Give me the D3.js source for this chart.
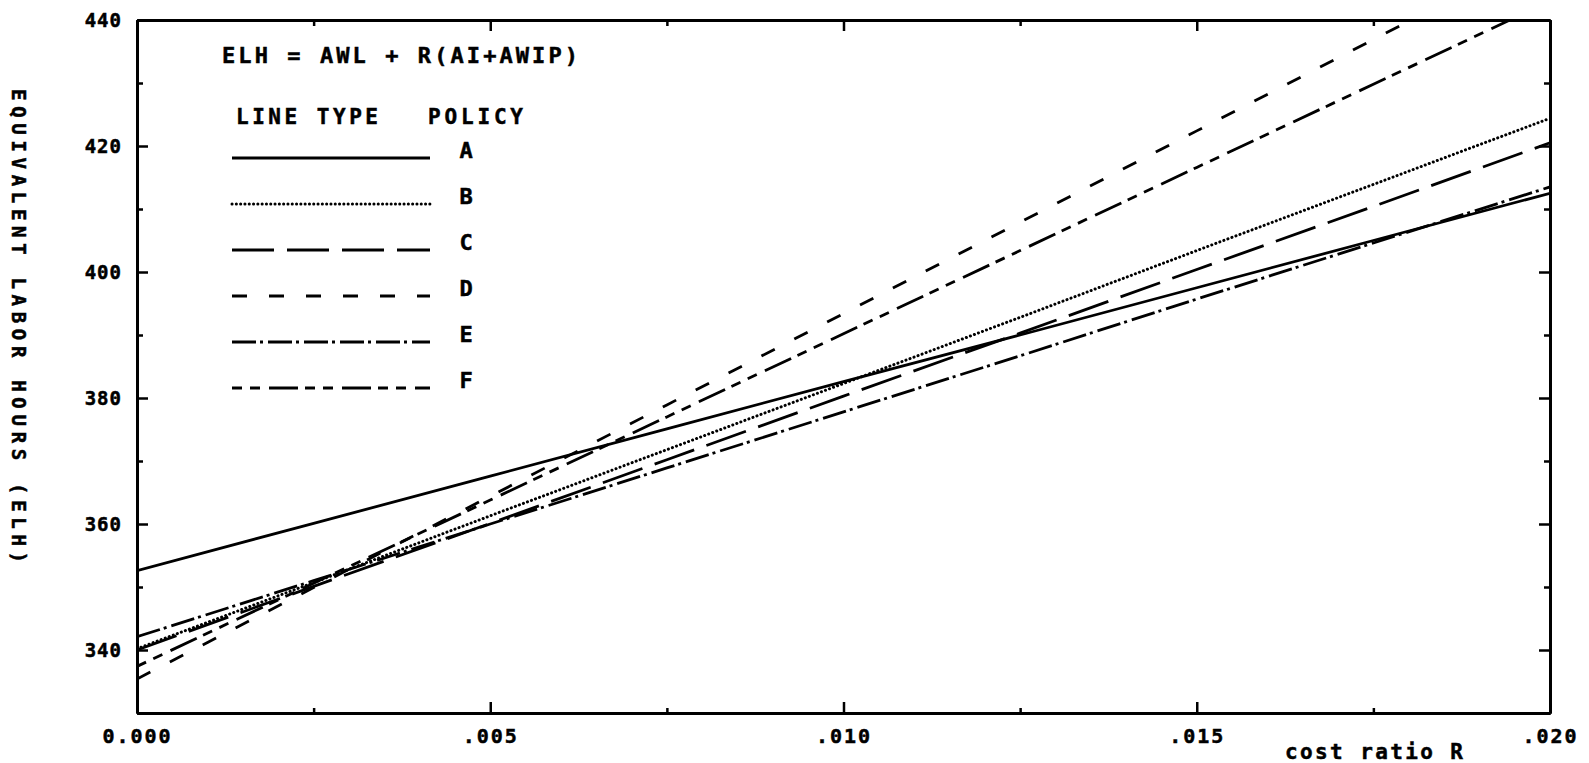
<!DOCTYPE html>
<html>
<head>
<meta charset="utf-8">
<script src="https://cdn.jsdelivr.net/npm/d3@7"></script>
<style>
  body { margin: 0; background: #fff; }
  text { font-family: "DejaVu Sans Mono", monospace; font-weight: bold; fill: #000; stroke: #000; stroke-width: 0.5px; }
</style>
</head>
<body>
<div id="chart"></div>
<script>
// values, ELH vs cost ratio R
var costRatio = [0, .0025, .005, .0075, .010, .0125, .015, .0175, .020];
var policyA = [352.6, 360.1, 367.6, 375.1, 382.6, 390.0, 397.5, 405.0, 412.5];
var policyB = [340.2, 350.7, 361.3, 371.8, 382.3, 392.8, 403.4, 413.9, 424.4];
var policyC = [340.0, 350.1, 360.1, 370.2, 380.3, 390.3, 400.4, 410.4, 420.5];
var policyD = [335.4, 349.9, 364.4, 378.9, 393.4, 407.9, 422.4, 436.9, 451.4];
var policyE = [342.1, 351.0, 360.0, 368.9, 377.8, 386.7, 395.7, 404.6, 413.5];
var policyF = [337.4, 350.6, 363.8, 377.0, 390.2, 403.4, 416.6, 429.8, 443.0];
var policyNames = ["A", "B", "C", "D", "E", "F"];

var yMajor = [340, 360, 380, 400, 420, 440];
var yMinor = [330, 350, 370, 390, 410, 430];
var xMajor = [0, .005, .010, .015, .020];
var xMinor = [.0025, .0075, .0125, .0175];
var xLabels = ["0.000", ".005", ".010", ".015", ".020"];

var series = [policyA, policyB, policyC, policyD, policyE, policyF];
// plotter line types
var dashes = ["none", "0.1,4.2", "42,13", "15,22", "24,4,3,5", "10,8,10,9,29,7"];

var w = 1589, h = 763;
var padLeft = 137, padRight = 1550, padTop = 20, padBottom = 713;

var scaleX = d3.scaleLinear().domain([0, .02]).range([padLeft, padRight]);
var scaleY = d3.scaleLinear().domain([330, 440]).range([padBottom, padTop]);

var canvas = d3.select("#chart")
  .append("svg")
  .attr("width", w)
  .attr("height", h);

canvas.append("defs").append("clipPath").attr("id", "plotArea")
  .append("rect")
  .attr("x", padLeft).attr("y", padTop)
  .attr("width", padRight - padLeft).attr("height", padBottom - padTop);

// frame + ticks (all inward)
function styleAxis(g) {
  g.selectAll("path.domain").attr("stroke", "#000").attr("stroke-width", 3);
  g.selectAll(".tick line").attr("stroke", "#000").attr("stroke-width", 2.5);
}

canvas.append("g")
  .attr("transform", "translate(" + padLeft + ",0)")
  .call(d3.axisLeft(scaleY).tickValues(yMajor).tickSizeInner(-11).tickSizeOuter(0).tickPadding(15).tickFormat(d3.format("d")))
  .call(styleAxis)
  .call(g => g.selectAll("text").attr("font-size", 19).attr("letter-spacing", 1));

canvas.append("g")
  .attr("transform", "translate(" + padLeft + ",0)")
  .call(d3.axisLeft(scaleY).tickValues(yMinor).tickSizeInner(-6).tickSizeOuter(0).tickFormat(""))
  .call(styleAxis);

canvas.append("g")
  .attr("transform", "translate(" + padRight + ",0)")
  .call(d3.axisRight(scaleY).tickValues(yMajor).tickSizeInner(-11).tickSizeOuter(0).tickFormat(""))
  .call(styleAxis);

canvas.append("g")
  .attr("transform", "translate(" + padRight + ",0)")
  .call(d3.axisRight(scaleY).tickValues(yMinor).tickSizeInner(-6).tickSizeOuter(0).tickFormat(""))
  .call(styleAxis);

canvas.append("g")
  .attr("transform", "translate(0," + padBottom + ")")
  .call(d3.axisBottom(scaleX).tickValues(xMajor).tickSizeInner(-11).tickSizeOuter(0).tickPadding(16)
    .tickFormat((d, i) => xLabels[i]))
  .call(styleAxis)
  .call(g => g.selectAll("text").attr("font-size", 20).attr("letter-spacing", 2));

canvas.append("g")
  .attr("transform", "translate(0," + padBottom + ")")
  .call(d3.axisBottom(scaleX).tickValues(xMinor).tickSizeInner(-5).tickSizeOuter(0).tickFormat(""))
  .call(styleAxis);

canvas.append("g")
  .attr("transform", "translate(0," + padTop + ")")
  .call(d3.axisTop(scaleX).tickValues(xMajor).tickSizeInner(-11).tickSizeOuter(0).tickFormat(""))
  .call(styleAxis);

canvas.append("g")
  .attr("transform", "translate(0," + padTop + ")")
  .call(d3.axisTop(scaleX).tickValues(xMinor).tickSizeInner(-6).tickSizeOuter(0).tickFormat(""))
  .call(styleAxis);

// policy curves
var line = d3.line()
  .x((d, i) => scaleX(costRatio[i]))
  .y(d => scaleY(d));

canvas.append("g")
  .attr("clip-path", "url(#plotArea)")
  .selectAll("path")
  .data(series)
  .enter()
  .append("path")
  .attr("d", line)
  .attr("fill", "none")
  .attr("stroke", "#000")
  .attr("stroke-width", (d, i) => i == 1 ? 3 : 2.8)
  .attr("stroke-linecap", (d, i) => i == 1 ? "round" : "butt")
  .attr("stroke-dasharray", (d, i) => dashes[i]);

// formula + legend
canvas.append("text")
  .attr("x", 222).attr("y", 63)
  .attr("font-size", 22)
  .attr("textLength", 356)
  .attr("lengthAdjust", "spacing")
  .text("ELH = AWL + R(AI+AWIP)");

canvas.append("text")
  .attr("x", 236).attr("y", 124)
  .attr("font-size", 21)
  .attr("textLength", 142)
  .attr("lengthAdjust", "spacing")
  .text("LINE TYPE");

canvas.append("text")
  .attr("x", 428).attr("y", 124)
  .attr("font-size", 21)
  .attr("textLength", 95)
  .attr("lengthAdjust", "spacing")
  .text("POLICY");

var legend = canvas.append("g")
  .selectAll("g")
  .data(policyNames)
  .enter()
  .append("g")
  .attr("transform", (d, i) => "translate(0," + (158 + i * 46) + ")");

legend.append("line")
  .attr("x1", 232).attr("x2", 430)
  .attr("stroke", "#000")
  .attr("stroke-width", (d, i) => i == 1 ? 3 : 2.8)
  .attr("stroke-linecap", (d, i) => i == 1 ? "round" : "butt")
  .attr("stroke-dasharray", (d, i) => dashes[i]);

legend.append("text")
  .attr("x", 466).attr("y", 0)
  .attr("text-anchor", "middle")
  .attr("font-size", 22)
  .text(d => d);

// axis titles
canvas.append("text")
  .attr("transform", "translate(12,326) rotate(90)")
  .attr("text-anchor", "middle")
  .attr("font-size", 19)
  .attr("textLength", 474)
  .attr("lengthAdjust", "spacing")
  .text("EQUIVALENT LABOR HOURS (ELH)");

canvas.append("text")
  .attr("x", 1285).attr("y", 759)
  .attr("font-size", 21)
  .attr("textLength", 178)
  .attr("lengthAdjust", "spacing")
  .text("cost ratio R");
</script>
</body>
</html>
